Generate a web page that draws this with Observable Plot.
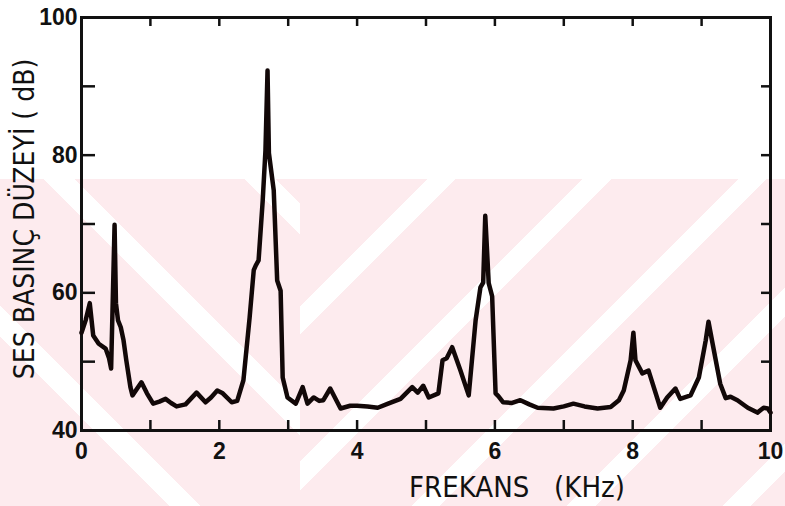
<!DOCTYPE html>
<html>
<head>
<meta charset="utf-8">
<script src="https://cdn.jsdelivr.net/npm/d3@7"></script>
<script src="https://cdn.jsdelivr.net/npm/@observablehq/plot@0.6"></script>
<style>
  html, body { margin: 0; padding: 0; background: #ffffff; }
  #wrap { position: relative; width: 785px; height: 506px; overflow: hidden; }
  #wm-left { position: absolute; left: 0; top: 179px; width: 300px; height: 327px;
    background: repeating-linear-gradient(45deg, #fdebee 0px, #fdebee 120px, #ffffff 120px, #ffffff 142px); }
  #wm-right { position: absolute; left: 300px; top: 179px; width: 485px; height: 327px;
    background: repeating-linear-gradient(135deg, #fdebee 0px, #fdebee 90px, #ffffff 90px, #ffffff 110px); }
  #chart { position: absolute; left: 0; top: 0; }
  #chart svg { background: transparent !important; }
</style>
</head>
<body>
<div id="wrap">
  <div id="wm-left"></div>
  <div id="wm-right"></div>
  <div id="chart"></div>
</div>
<script>
// Frequency (kHz) and sound pressure level (dB)
const freq = [
  0.00, 0.06, 0.12, 0.17, 0.25, 0.35, 0.40, 0.43, 0.48, 0.50, 0.53, 0.57, 0.61, 0.65, 0.71, 0.74,
  0.87, 0.95, 1.04, 1.13, 1.22, 1.30, 1.38, 1.51, 1.67, 1.80, 1.88, 1.97, 2.05, 2.18, 2.26,
  2.35, 2.44, 2.50, 2.53, 2.57, 2.63, 2.67, 2.70, 2.72, 2.79, 2.84, 2.89, 2.92, 2.99,
  3.11, 3.21, 3.28, 3.37, 3.45, 3.51, 3.61, 3.76, 3.90, 4.00, 4.15, 4.30, 4.45, 4.63,
  4.80, 4.88, 4.96, 5.04, 5.18, 5.24, 5.30, 5.38, 5.50, 5.62, 5.72, 5.79, 5.83, 5.86,
  5.91, 5.96, 6.01, 6.05, 6.12, 6.25, 6.37, 6.50, 6.62, 6.85, 7.00, 7.14, 7.30, 7.49,
  7.68, 7.80, 7.87, 7.97, 8.01, 8.04, 8.14, 8.23, 8.40, 8.50, 8.62, 8.69, 8.84, 8.96,
  9.06, 9.10, 9.16, 9.27, 9.35, 9.42, 9.52, 9.67, 9.81, 9.90, 9.96, 10.00
];
const level = [
  54.2, 56.0, 58.5, 53.8, 52.6, 51.9, 50.5, 49.0, 69.9, 58.5, 56.0, 55.0, 53.1, 50.2, 46.3, 45.1,
  47.0, 45.4, 43.9, 44.2, 44.6, 44.0, 43.5, 43.8, 45.5, 44.1, 44.8, 45.8, 45.4, 44.1, 44.3,
  47.3, 56.4, 63.3, 64.0, 64.7, 73.4, 80.7, 92.3, 80.3, 74.9, 61.8, 60.3, 47.7, 44.8,
  43.9, 46.3, 43.9, 44.8, 44.3, 44.4, 46.1, 43.2, 43.6, 43.6, 43.5, 43.3, 43.9, 44.6,
  46.3, 45.5, 46.5, 44.8, 45.4, 50.2, 50.5, 52.1, 48.7, 45.1, 56.0, 60.8, 61.5, 71.2,
  61.4, 59.5, 45.4, 45.0, 44.1, 44.0, 44.4, 43.8, 43.3, 43.2, 43.5, 43.9, 43.5, 43.2,
  43.4, 44.4, 45.8, 50.2, 54.2, 50.2, 48.3, 48.7, 43.3, 44.8, 46.1, 44.6, 45.1, 47.7,
  53.1, 55.8, 52.6, 46.8, 44.7, 44.9, 44.4, 43.3, 42.6, 43.3, 43.2, 42.6
];

// Tick labels and tick positions
const xLabels = [0, 2, 4, 6, 8, 10];
const yLabels = [40, 60, 80, 100];
const xMinorTicks = [1, 2, 3, 4, 5, 6, 7, 8, 9];
const yMinorTicks = [50, 60, 70, 80, 90];

const xTitle = "FREKANS   (KHz)";
const yTitle = "SES BASINÇ DÜZEYİ ( dB)";

const data = freq.map((f, i) => ({f, db: level[i]}));

const W = 785, H = 506;
const mL = 81, mR = 15, mT = 17, mB = 76;
const innerH = H - mT - mB;
const innerW = W - mL - mR;

const titleFont = "'Liberation Sans Narrow', 'DejaVu Sans Condensed', 'Liberation Sans', sans-serif";
const tickFont = "'Liberation Sans', Arial, sans-serif";

const chart = Plot.plot({
  width: W,
  height: H,
  marginLeft: mL,
  marginRight: mR,
  marginTop: mT,
  marginBottom: mB,
  style: {background: "transparent", color: "#111"},
  x: {domain: [0, 10]},
  y: {domain: [40, 100]},
  marks: [
    // inward ticks: bottom and top
    Plot.ruleX(xMinorTicks, {x: d => d, insetTop: innerH - 10, stroke: "#111", strokeWidth: 2.5}),
    Plot.ruleX(xMinorTicks, {x: d => d, insetBottom: innerH - 9, stroke: "#111", strokeWidth: 2.5}),
    // inward ticks: left and right
    Plot.ruleY(yMinorTicks, {y: d => d, insetRight: innerW - 14, stroke: "#111", strokeWidth: 2.5}),
    Plot.ruleY(yMinorTicks, {y: d => d, insetLeft: innerW - 9, stroke: "#111", strokeWidth: 2.5}),
    Plot.frame({stroke: "#111", strokeWidth: 3}),
    Plot.axisX(xLabels, {
      tickSize: 0, tickPadding: 12, fontSize: 23, fontWeight: "bold",
      fontFamily: tickFont, label: null, tickFormat: d => String(d)
    }),
    Plot.axisY(yLabels, {
      tickSize: 0, tickPadding: 4, fontSize: 23, fontWeight: "bold",
      fontFamily: tickFont, label: null, tickFormat: d => String(d)
    }),
    Plot.line(data, {
      x: "f", y: "db", stroke: "#120808", strokeWidth: 4.5,
      strokeLinejoin: "round", strokeLinecap: "round"
    }),
    Plot.text([xTitle], {
      text: d => d, frameAnchor: "bottom", dx: 91, dy: 57,
      fontSize: 29, fontFamily: titleFont, fill: "#111",
      textAnchor: "middle", lineAnchor: "middle"
    }),
    Plot.text([yTitle], {
      text: d => d, frameAnchor: "left", rotate: -90, dx: -56, dy: -5,
      fontSize: 28, fontFamily: titleFont, fill: "#111",
      textAnchor: "middle", lineAnchor: "middle"
    })
  ]
});

document.getElementById("chart").appendChild(chart);
</script>
</body>
</html>
